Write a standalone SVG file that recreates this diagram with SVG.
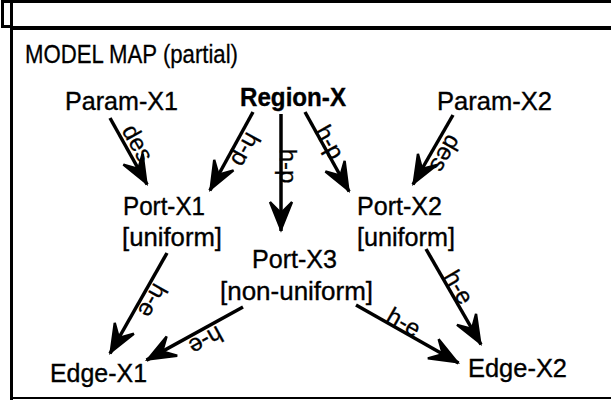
<svg xmlns="http://www.w3.org/2000/svg" width="611" height="401" viewBox="0 0 611 401">
  <style>
    .frame { fill: #000; }
    .title { font-family: "Liberation Sans", Arial, Helvetica, sans-serif; font-size: 26px; fill: #000; stroke: #000; stroke-width: 0.3; }
    .node { font-family: "Liberation Sans", Arial, Helvetica, sans-serif; font-size: 25px; fill: #000; stroke: #000; stroke-width: 0.35; }
    .node-bold { font-weight: bold; }
    .edge { stroke: #000; stroke-width: 3.5; fill: none; marker-end: url(#head); }
    .elabel { font-family: "Liberation Sans", Arial, Helvetica, sans-serif; font-size: 24px; fill: #000; stroke: #000; stroke-width: 0.3; text-anchor: middle; }
  </style>
  <defs>
    <!-- narrow notched arrowhead; the line ends just behind the visual tip -->
    <marker id="head" markerUnits="userSpaceOnUse" orient="auto" refX="0" refY="0" markerWidth="40" markerHeight="30" overflow="visible">
      <path d="M-29,-11 L-1.5,0 L-29,11 L-18,0 Z" fill="#000" stroke="#000" stroke-width="2.4" stroke-linejoin="miter"/>
    </marker>
  </defs>

  <rect width="611" height="401" fill="#fff"/>

  <!-- page frame -->
  <g id="frame">
    <rect class="frame" x="1" y="0" width="610" height="3"/>
    <rect class="frame" x="10" y="26" width="601" height="4"/>
    <rect class="frame" x="10" y="0" width="3" height="400"/>
    <rect class="frame" x="10" y="397" width="601" height="2"/>
    <rect class="frame" x="1" y="0" width="3" height="28"/>
    <rect class="frame" x="1" y="25" width="10" height="3"/>
  </g>

  <text class="title" x="25" y="63" textLength="213" lengthAdjust="spacingAndGlyphs">MODEL MAP (partial)</text>

  <!-- connectors -->
  <g id="connectors">
    <line class="edge" x1="110" y1="118" x2="147.1" y2="184.5"/>
    <line class="edge" x1="253" y1="112" x2="209.9" y2="190.5"/>
    <line class="edge" x1="281" y1="114" x2="281" y2="231"/>
    <line class="edge" x1="305" y1="112" x2="349.1" y2="191.5"/>
    <line class="edge" x1="453" y1="115" x2="413" y2="184.5"/>
    <line class="edge" x1="167" y1="253" x2="110" y2="353.5"/>
    <line class="edge" x1="243" y1="307" x2="146.5" y2="360.1"/>
    <line class="edge" x1="426" y1="249" x2="481" y2="344.5"/>
    <line class="edge" x1="356" y1="305" x2="458.5" y2="363"/>

    <text class="elabel" transform="translate(138,143) rotate(60.9)" dy=".35em">des</text>
    <text class="elabel" transform="translate(246,150) rotate(118.8)" dy=".35em">h-p</text>
    <text class="elabel" transform="translate(288,166) rotate(90)" dy=".35em">h-p</text>
    <text class="elabel" transform="translate(330,142) rotate(61)" dy=".35em">h-p</text>
    <text class="elabel" transform="translate(446,154) rotate(119.9)" dy=".35em">des</text>
    <text class="elabel" transform="translate(153,301) rotate(119.6)" dy=".35em">h-e</text>
    <text class="elabel" transform="translate(206,341) rotate(151.2)" dy=".35em">h-e</text>
    <text class="elabel" transform="translate(459,287) rotate(60.1)" dy=".35em">h-e</text>
    <text class="elabel" transform="translate(404,322) rotate(29.5)" dy=".35em">h-e</text>
  </g>

  <!-- nodes -->
  <g id="param-x1"><text class="node" x="65" y="110" textLength="113" lengthAdjust="spacingAndGlyphs">Param-X1</text></g>
  <g id="region-x"><text class="node node-bold" x="240" y="106" textLength="106" lengthAdjust="spacingAndGlyphs">Region-X</text></g>
  <g id="param-x2"><text class="node" x="437" y="110" textLength="115" lengthAdjust="spacingAndGlyphs">Param-X2</text></g>
  <g id="port-x1">
    <text class="node" x="123" y="215" textLength="82" lengthAdjust="spacingAndGlyphs">Port-X1</text>
    <text class="node" x="122" y="246" textLength="100" lengthAdjust="spacingAndGlyphs">[uniform]</text>
  </g>
  <g id="port-x2">
    <text class="node" x="357" y="215" textLength="85" lengthAdjust="spacingAndGlyphs">Port-X2</text>
    <text class="node" x="357" y="246" textLength="98" lengthAdjust="spacingAndGlyphs">[uniform]</text>
  </g>
  <g id="port-x3">
    <text class="node" x="252" y="268" textLength="85" lengthAdjust="spacingAndGlyphs">Port-X3</text>
    <text class="node" x="220" y="300" textLength="153" lengthAdjust="spacingAndGlyphs">[non-uniform]</text>
  </g>
  <g id="edge-x1"><text class="node" x="50" y="382" textLength="97" lengthAdjust="spacingAndGlyphs">Edge-X1</text></g>
  <g id="edge-x2"><text class="node" x="468" y="377" textLength="99" lengthAdjust="spacingAndGlyphs">Edge-X2</text></g>
</svg>
